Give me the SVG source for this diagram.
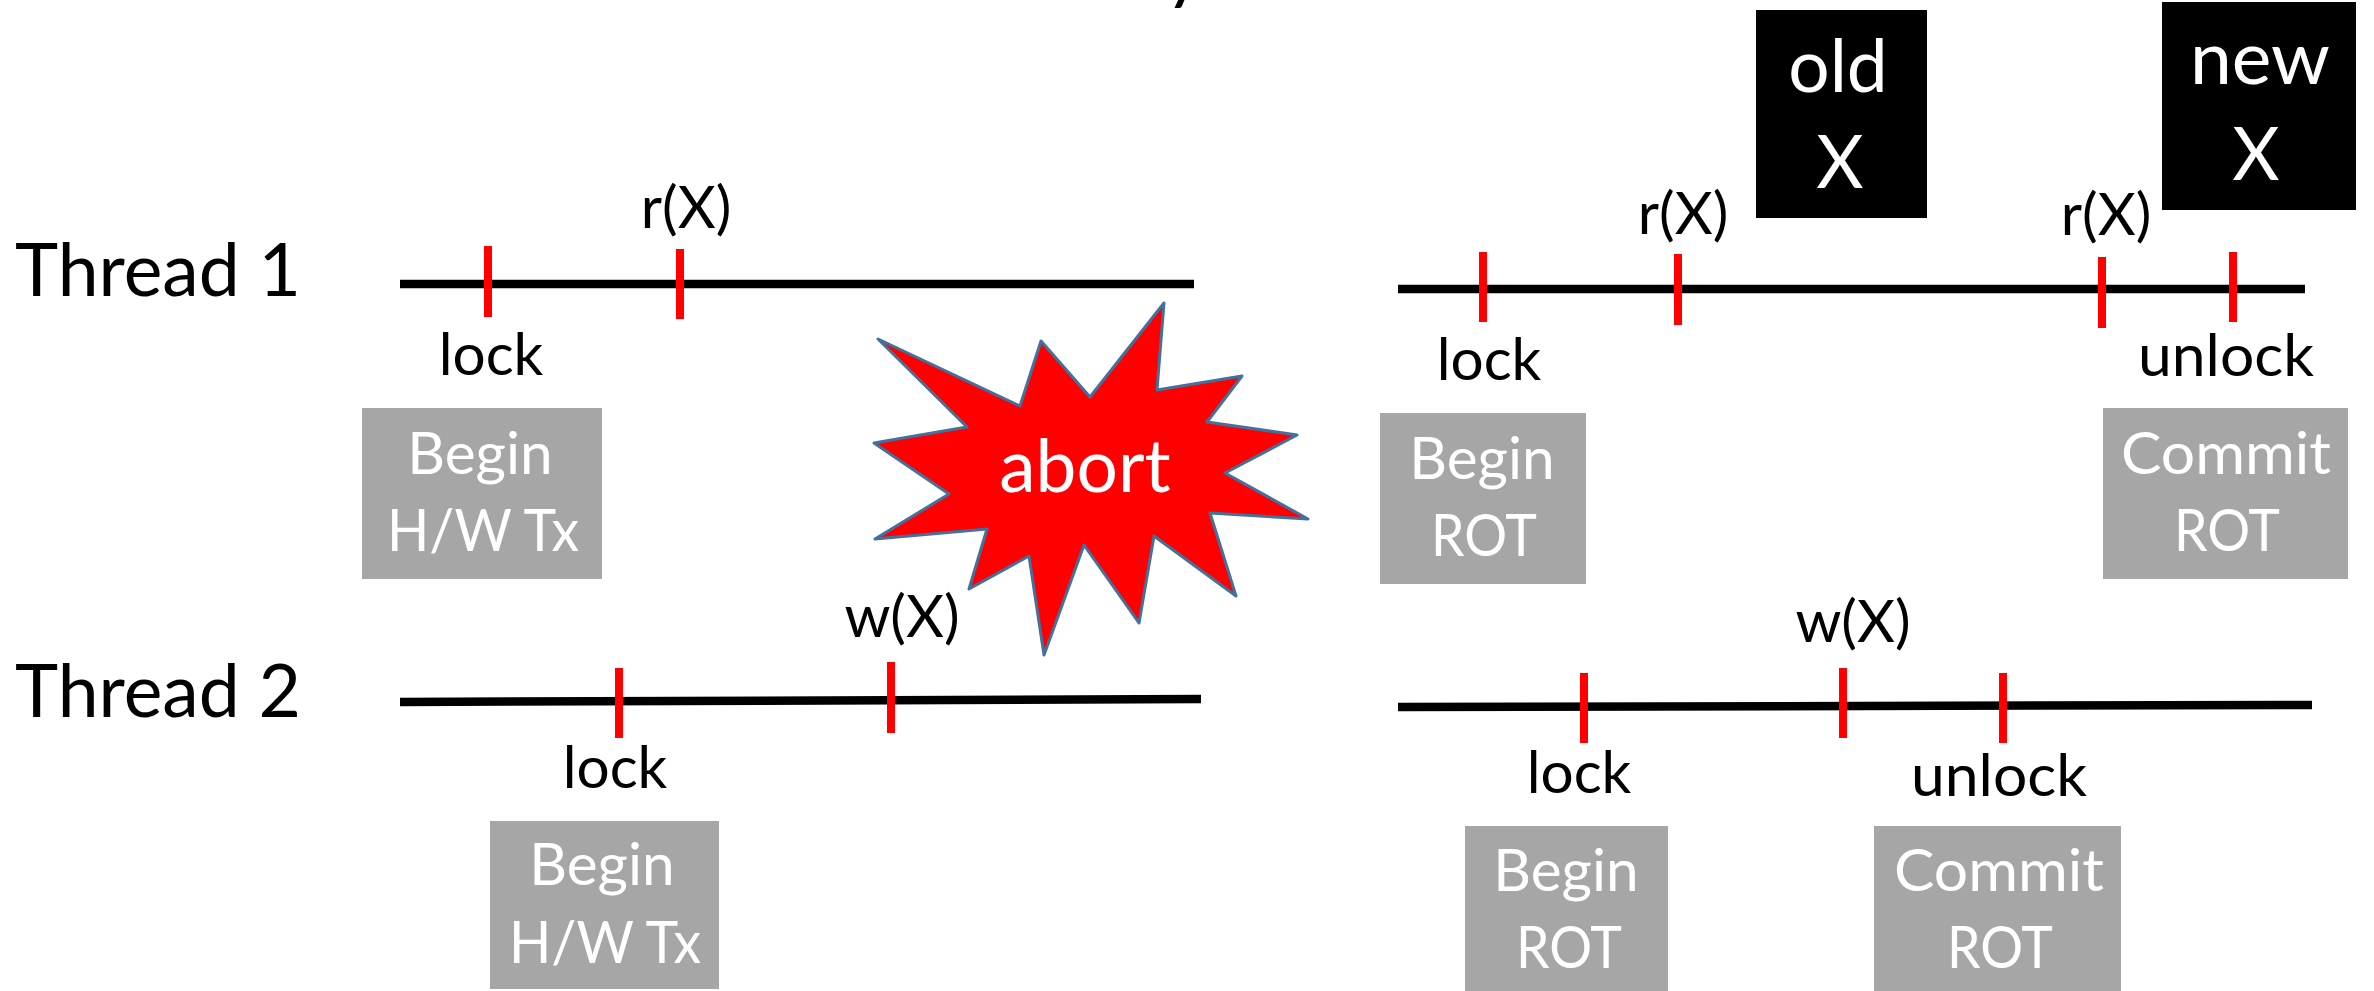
<svg xmlns="http://www.w3.org/2000/svg" width="2374" height="991" viewBox="0 0 2374 991">
<style>
text{font-family:"Lato","Carlito","Liberation Sans",sans-serif;text-anchor:middle}
.lg{font-size:73px}
.md{font-size:58.5px}
.k{fill:#000}
.w{fill:#fff}
.box{fill:#a6a6a6}
.blk{fill:#000}
.tl{stroke:#000;stroke-width:8.5;fill:none}
.tk{stroke:#f00;stroke-width:8;fill:none}
</style>
<rect width="2374" height="991" fill="#fff"/>
<text class="lg k" x="1184" y="-5">y</text>
<g id="connectors">
<path class="tl" d="M400 284H1194"/>
<path class="tl" d="M400 702L1201 699"/>
<path class="tl" d="M1398 289H2305"/>
<path class="tl" d="M1398 707L2312 705"/>
<path class="tk" d="M488 246V317M680 249V319M1483 252V322M1678 254V325M2102 257V328M2233 252V322M619 668V738M891 662V733M1584 673V743M1843 668V738M2003 673V743"/>
</g>
<g id="thread1"><text class="lg k" x="158" y="296" textLength="286" lengthAdjust="spacingAndGlyphs">Thread 1</text></g>
<g id="thread2"><text class="lg k" x="158" y="717" textLength="286" lengthAdjust="spacingAndGlyphs">Thread 2</text></g>
<g id="l1"><text class="md k" x="491" y="375">lock</text></g>
<g id="l2"><text class="md k" x="686" y="228">r(X)</text></g>
<g id="l3"><text class="md k" x="1489" y="380">lock</text></g>
<g id="l4"><text class="md k" x="1683" y="234">r(X)</text></g>
<g id="l5"><text class="md k" x="2106" y="235">r(X)</text></g>
<g id="l6"><text class="md k" x="2226" y="376" textLength="176" lengthAdjust="spacingAndGlyphs">unlock</text></g>
<g id="l7"><text class="md k" x="615" y="788">lock</text></g>
<g id="l8"><text class="md k" x="902" y="637">w(X)</text></g>
<g id="l9"><text class="md k" x="1579" y="793">lock</text></g>
<g id="l10"><text class="md k" x="1853" y="642">w(X)</text></g>
<g id="l11"><text class="md k" x="1999" y="796" textLength="176" lengthAdjust="spacingAndGlyphs">unlock</text></g>
<g id="begin-hw-1"><rect class="box" x="362" y="408" width="240" height="171"/><text class="md w" x="480" y="474">Begin</text><text class="md w" x="483" y="551" textLength="192" lengthAdjust="spacingAndGlyphs">H/W Tx</text></g>
<g id="begin-hw-2"><rect class="box" x="490" y="821" width="229" height="168"/><text class="md w" x="602" y="885">Begin</text><text class="md w" x="605" y="963" textLength="192" lengthAdjust="spacingAndGlyphs">H/W Tx</text></g>
<g id="begin-rot-1"><rect class="box" x="1380" y="413" width="206" height="171"/><text class="md w" x="1482" y="479">Begin</text><text class="md w" x="1484" y="556" textLength="106" lengthAdjust="spacingAndGlyphs">ROT</text></g>
<g id="commit-rot-1"><rect class="box" x="2103" y="408" width="245" height="171"/><text class="md w" x="2226" y="474" textLength="210" lengthAdjust="spacingAndGlyphs">Commit</text><text class="md w" x="2227" y="551" textLength="106" lengthAdjust="spacingAndGlyphs">ROT</text></g>
<g id="begin-rot-2"><rect class="box" x="1465" y="826" width="203" height="165"/><text class="md w" x="1566" y="891">Begin</text><text class="md w" x="1569" y="968" textLength="106" lengthAdjust="spacingAndGlyphs">ROT</text></g>
<g id="commit-rot-2"><rect class="box" x="1874" y="826" width="247" height="165"/><text class="md w" x="1999" y="891" textLength="210" lengthAdjust="spacingAndGlyphs">Commit</text><text class="md w" x="2000" y="968" textLength="106" lengthAdjust="spacingAndGlyphs">ROT</text></g>
<g id="old-x"><rect class="blk" x="1756" y="10" width="171" height="208"/><text class="lg w" x="1838" y="92">old</text><text class="lg w" x="1840" y="188">X</text></g>
<g id="new-x"><rect class="blk" x="2162" y="2" width="194" height="208"/><text class="lg w" x="2260" y="84" textLength="140" lengthAdjust="spacingAndGlyphs">new</text><text class="lg w" x="2256" y="180">X</text></g>
<g id="abort"><polygon points="878,339 1020,406 1041,341 1090,397 1164,303 1157,390 1242,376 1207,422 1297,435 1225,473 1308,519 1210,513 1236,596 1154,536 1139,623 1084,545 1044,655 1029,556 969,589 987,529 875,539 949,494 874,443 967,427" fill="#f00" stroke="#41719c" stroke-width="3" stroke-linejoin="round"/><text class="lg w" x="1085" y="492">abort</text></g>
</svg>
